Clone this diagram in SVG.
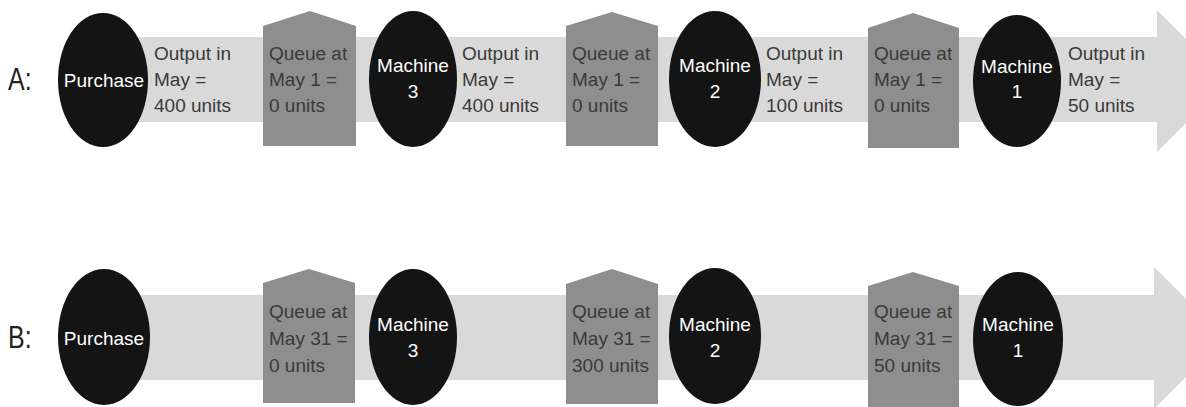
<svg xmlns="http://www.w3.org/2000/svg" width="1186" height="407" viewBox="0 0 1186 407">
  <style>
    .band { fill: #d9d9d9; }
    .queue { fill: #8e8e8e; }
    .node { fill: #141414; }
    .t { font-family: "Liberation Sans", Arial, sans-serif; font-size: 19px; }
    .dark { fill: #3a3a3a; }
    .light { fill: #ffffff; text-anchor: middle; }
    .row { font-family: "Liberation Sans", Arial, sans-serif; font-size: 32px; fill: #222; }
  </style>
  <rect width="1186" height="407" fill="#ffffff"/>

  <!-- flow arrows (connectors) -->
  <g id="connectors">
    <path class="band" d="M103,37 H1157 V10 L1228,81 L1157,152 V122 H103 Z"/>
    <path class="band" d="M103,295 H1154 V267 L1225,338 L1154,409 V380 H103 Z"/>
  </g>

  <!-- row labels -->
  <text class="row" transform="translate(8,90) scale(0.78,1)">A:</text>
  <text class="row" transform="translate(8,348) scale(0.78,1)">B:</text>

  <!-- row A -->
  <g id="a-purchase">
    <ellipse class="node" cx="103" cy="80" rx="45" ry="67"/>
    <text class="t light" x="104" y="87">Purchase</text>
  </g>
  <g id="a-output-purchase">
    <text class="t dark" x="154" y="60">Output in</text>
    <text class="t dark" x="154" y="86">May =</text>
    <text class="t dark" x="154" y="112">400 units</text>
  </g>
  <g id="a-queue-3">
    <path class="queue" d="M263,26 L310,11 L356,26 V146 H263 Z"/>
    <text class="t dark" x="269" y="60">Queue at</text>
    <text class="t dark" x="269" y="86">May 1 =</text>
    <text class="t dark" x="269" y="112">0 units</text>
  </g>
  <g id="a-machine-3">
    <ellipse class="node" cx="413" cy="79" rx="44" ry="68"/>
    <text class="t light" x="413" y="72">Machine</text>
    <text class="t light" x="413" y="98">3</text>
  </g>
  <g id="a-output-3">
    <text class="t dark" x="462" y="60">Output in</text>
    <text class="t dark" x="462" y="86">May =</text>
    <text class="t dark" x="462" y="112">400 units</text>
  </g>
  <g id="a-queue-2">
    <path class="queue" d="M566,26 L612,12 L658,26 V146 H566 Z"/>
    <text class="t dark" x="572" y="60">Queue at</text>
    <text class="t dark" x="572" y="86">May 1 =</text>
    <text class="t dark" x="572" y="112">0 units</text>
  </g>
  <g id="a-machine-2">
    <ellipse class="node" cx="715" cy="79" rx="46" ry="68"/>
    <text class="t light" x="715" y="72">Machine</text>
    <text class="t light" x="715" y="98">2</text>
  </g>
  <g id="a-output-2">
    <text class="t dark" x="766" y="60">Output in</text>
    <text class="t dark" x="766" y="86">May =</text>
    <text class="t dark" x="766" y="112">100 units</text>
  </g>
  <g id="a-queue-1">
    <path class="queue" d="M868,28 L913,13 L959,28 V148 H868 Z"/>
    <text class="t dark" x="874" y="60">Queue at</text>
    <text class="t dark" x="874" y="86">May 1 =</text>
    <text class="t dark" x="874" y="112">0 units</text>
  </g>
  <g id="a-machine-1">
    <ellipse class="node" cx="1017" cy="81" rx="44" ry="66"/>
    <text class="t light" x="1017" y="73">Machine</text>
    <text class="t light" x="1017" y="98">1</text>
  </g>
  <g id="a-output-1">
    <text class="t dark" x="1068" y="60">Output in</text>
    <text class="t dark" x="1068" y="86">May =</text>
    <text class="t dark" x="1068" y="112">50 units</text>
  </g>

  <!-- row B -->
  <g id="b-purchase">
    <ellipse class="node" cx="104" cy="337" rx="46" ry="68"/>
    <text class="t light" x="104" y="345">Purchase</text>
  </g>
  <g id="b-queue-3">
    <path class="queue" d="M263,283 L309,269 L355,283 V403 H263 Z"/>
    <text class="t dark" x="269" y="318">Queue at</text>
    <text class="t dark" x="269" y="345">May 31 =</text>
    <text class="t dark" x="269" y="372">0 units</text>
  </g>
  <g id="b-machine-3">
    <ellipse class="node" cx="413" cy="337" rx="44" ry="68"/>
    <text class="t light" x="413" y="331">Machine</text>
    <text class="t light" x="413" y="357">3</text>
  </g>
  <g id="b-queue-2">
    <path class="queue" d="M566,284 L612,269 L658,284 V404 H566 Z"/>
    <text class="t dark" x="572" y="318">Queue at</text>
    <text class="t dark" x="572" y="345">May 31 =</text>
    <text class="t dark" x="572" y="372">300 units</text>
  </g>
  <g id="b-machine-2">
    <ellipse class="node" cx="715" cy="336" rx="46" ry="68"/>
    <text class="t light" x="715" y="331">Machine</text>
    <text class="t light" x="715" y="357">2</text>
  </g>
  <g id="b-queue-1">
    <path class="queue" d="M868,286 L913,272 L959,286 V407 H868 Z"/>
    <text class="t dark" x="874" y="318">Queue at</text>
    <text class="t dark" x="874" y="345">May 31 =</text>
    <text class="t dark" x="874" y="372">50 units</text>
  </g>
  <g id="b-machine-1">
    <ellipse class="node" cx="1018" cy="339" rx="45" ry="67"/>
    <text class="t light" x="1018" y="331">Machine</text>
    <text class="t light" x="1018" y="357">1</text>
  </g>
</svg>
